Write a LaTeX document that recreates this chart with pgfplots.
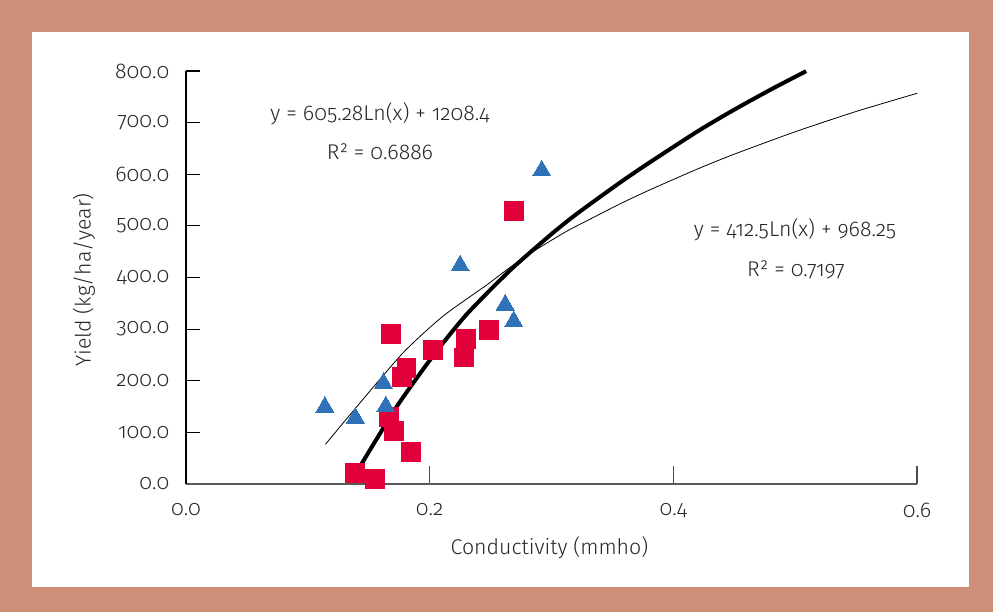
\documentclass[border=0pt]{standalone}
\usepackage{fontspec}
\setmainfont{Fira Sans Light}[Numbers=OldStyle]
\usepackage{pgfplots}
\pgfplotsset{compat=1.18}
\definecolor{frame}{RGB}{205,143,120}
\definecolor{sq}{RGB}{226,0,58}
\definecolor{tri}{RGB}{48,114,184}
\begin{document}
\begin{tikzpicture}[x=0.75pt,y=0.75pt,font=\fontsize{16}{19}\selectfont]
\fill[frame] (0,0) rectangle (993,612);
\fill[white] (32,25) rectangle (969,580);
\begin{axis}[at={(139.5pt,96pt)}, anchor=south west, scale only axis,
  width=548.25pt, height=309.75pt,
  xmin=0, xmax=0.6, ymin=0, ymax=800,
  axis x line*=bottom, axis y line*=left,
  axis line style={-},
  x axis line style={black!65, line width=1pt},
  y axis line style={black, line width=1pt},
  xtick={0,0.2,0.4,0.6}, ytick={0,100,...,800},
  tick align=inside,
  xtick style={black!70, line width=0.9pt, /pgfplots/major tick length=13.5pt},
  ytick style={black, line width=0.9pt, /pgfplots/major tick length=10.5pt},
  /pgf/number format/fixed, /pgf/number format/fixed zerofill,
  /pgf/number format/precision=1, /pgf/number format/assume math mode=true,
  every x tick label/.append style={yshift=-11pt, text=black!85},
  every y tick label/.append style={xshift=-9pt, text=black!85},
  clip=false,
]
% triangles fit (thin)
\addplot[black, line width=0.6pt, smooth, tension=0.4] coordinates {
(0.1145,77) (0.1399,149) (0.1781,254) (0.2109,325) (0.2465,385) (0.2656,419)
(0.2847,450) (0.312,489) (0.33,511) (0.3557,542) (0.38,569) (0.42,610.4) (0.45,638.9)
(0.5,682.3) (0.55,721.6) (0.6003,757)};
% squares fit (thick)
\addplot[black, line width=3pt, smooth, tension=0.4] coordinates {
(0.1426,33) (0.1727,149) (0.2027,248) (0.2301,328) (0.2656,413) (0.2984,481)
(0.32,522) (0.3557,583) (0.38,622) (0.42,683.3) (0.45,725.1) (0.48,764.1) (0.509,799.7)};
\addplot[only marks, mark=square*, mark size=7.1pt, mark options={fill=sq, draw=sq, line width=0pt}] coordinates {
(0.269,529) (0.168,291) (0.203,260) (0.230,281) (0.249,298) (0.228,245)
(0.181,225) (0.177,208) (0.167,130) (0.171,103) (0.185,62) (0.139,21) (0.155,10)};
\addplot[only marks, mark=triangle*, mark size=7.8pt, mark options={fill=tri, draw=tri, line width=0pt}] coordinates {
(0.292,607) (0.225,423) (0.262,347) (0.269,315) (0.162,195) (0.164,150) (0.114,149) (0.139,128)};
\end{axis}
\node[text=black!85] at (380,498) {y = 605.28Ln(x) + 1208.4};
\node[text=black!85] at (380,460) {R² = 0.6886};
\node[text=black!85] at (795,382) {y = 412.5Ln(x) + 968.25};
\node[text=black!85] at (796,342) {R² = 0.7197};
\node[text=black!85, rotate=90] at (84,332) {Yield (kg/ha/year)};
\node[text=black!85] at (549.5,64) {Conductivity (mmho)};
\end{tikzpicture}
\end{document}
